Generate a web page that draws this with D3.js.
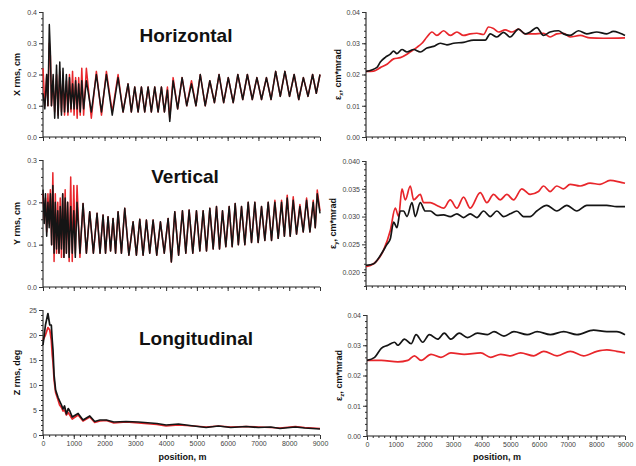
<!DOCTYPE html>
<html><head><meta charset="utf-8">
<script src="https://cdn.jsdelivr.net/npm/d3@7"></script>
<style>
body{margin:0;background:#fff}
svg{display:block}
text{font-family:"Liberation Sans",Arial,Helvetica,sans-serif}
</style>
</head><body>
<svg id="c" width="636" height="466"></svg>
<script>
// ---------- DATA (position in m) ----------
const xTicks = [0,1000,2000,3000,4000,5000,6000,7000,8000,9000];

// Horizontal: X rms, cm
const posH = [0,60,120,160,205,240,275,330,380,440,490,545,600,650,700,760,810,860,910,960,1010,1060,1110,1160,1210,1260,1320,1409,1570,1734,1900,2060,2250,2439,2600,2764,2870,2981,3090,3198,3305,3415,3520,3631,3740,3848,3945,4043,4119,4228,4375,4520,4670,4824,4970,5110,5270,5420,5570,5720,5870,6020,6180,6330,6490,6640,6800,6950,7100,7260,7410,7560,7710,7860,8010,8160,8310,8460,8610,8760,8880,9000];
const hBlack = [0.14,0.09,0.2,0.1,0.36,0.27,0.1,0.2,0.06,0.23,0.06,0.24,0.07,0.22,0.08,0.2,0.08,0.19,0.09,0.17,0.09,0.18,0.09,0.17,0.08,0.18,0.09,0.18,0.08,0.2,0.08,0.2,0.07,0.19,0.08,0.17,0.08,0.16,0.08,0.16,0.08,0.16,0.08,0.16,0.08,0.16,0.08,0.15,0.05,0.18,0.09,0.19,0.1,0.17,0.1,0.2,0.1,0.18,0.11,0.2,0.11,0.19,0.11,0.2,0.12,0.2,0.12,0.19,0.12,0.19,0.12,0.21,0.13,0.21,0.13,0.2,0.12,0.19,0.13,0.2,0.14,0.2];
const hRed = [0.22,0.1,0.2,0.1,0.3,0.26,0.1,0.18,0.08,0.2,0.07,0.21,0.08,0.19,0.07,0.18,0.07,0.2,0.08,0.21,0.07,0.19,0.06,0.19,0.07,0.22,0.07,0.22,0.06,0.21,0.07,0.21,0.08,0.2,0.08,0.17,0.08,0.16,0.08,0.16,0.08,0.16,0.08,0.16,0.08,0.16,0.08,0.16,0.06,0.19,0.09,0.19,0.1,0.18,0.1,0.2,0.1,0.18,0.11,0.2,0.11,0.19,0.11,0.2,0.12,0.2,0.12,0.19,0.12,0.19,0.12,0.21,0.13,0.21,0.13,0.2,0.12,0.19,0.13,0.2,0.14,0.2];

// Vertical: Y rms, cm
const posV = [0,40,80,120,160,200,240,280,320,360,400,440,480,520,560,600,640,680,720,760,800,850,900,950,1000,1050,1106,1200,1301,1410,1518,1637,1756,1853,1951,2032,2114,2195,2276,2358,2439,2548,2656,2790,2927,3035,3144,3252,3360,3468,3577,3696,3816,3940,4065,4170,4282,4406,4531,4640,4748,4867,4986,5095,5203,5312,5420,5529,5637,5735,5832,5940,6049,6146,6244,6347,6450,6558,6667,6775,6883,6991,7100,7208,7317,7425,7534,7642,7751,7843,7935,8032,8130,8238,8347,8455,8564,8672,8780,8846,8911,9000];
const vBlack = [0.23,0.15,0.22,0.12,0.2,0.14,0.22,0.1,0.24,0.08,0.2,0.09,0.18,0.08,0.19,0.09,0.22,0.07,0.21,0.08,0.2,0.07,0.19,0.08,0.18,0.07,0.2,0.08,
0.197,0.08,0.178,0.08,0.174,0.08,0.17,0.08,0.166,0.085,0.162,0.08,0.178,0.08,0.186,0.075,0.154,0.075,0.16,0.075,0.158,0.08,0.158,0.075,0.154,0.08,0.162,0.059,0.178,0.075,0.18,0.08,0.182,0.08,0.18,0.085,0.18,0.085,0.186,0.09,0.19,0.09,0.18,0.095,0.19,0.095,0.197,0.1,0.19,0.1,0.2,0.105,0.2,0.105,0.19,0.11,0.2,0.11,0.2,0.115,0.2,0.12,0.21,0.12,0.205,0.125,0.19,0.13,0.205,0.13,0.2,0.14,0.22,0.174];
const vRed = [0.22,0.16,0.21,0.13,0.22,0.15,0.23,0.1,0.27,0.06,0.22,0.08,0.2,0.08,0.21,0.07,0.22,0.07,0.23,0.08,0.2,0.06,0.26,0.06,0.24,0.08,0.24,0.07,
0.197,0.08,0.178,0.08,0.174,0.08,0.17,0.08,0.166,0.085,0.162,0.08,0.178,0.08,0.186,0.075,0.154,0.075,0.16,0.075,0.158,0.08,0.158,0.075,0.154,0.08,0.162,0.059,0.178,0.075,0.18,0.08,0.182,0.08,0.18,0.085,0.18,0.085,0.186,0.09,0.19,0.09,0.18,0.095,0.19,0.095,0.197,0.1,0.19,0.1,0.2,0.105,0.2,0.105,0.19,0.11,0.2,0.11,0.205,0.115,0.205,0.12,0.217,0.12,0.213,0.125,0.195,0.13,0.21,0.13,0.205,0.14,0.229,0.18];

// Longitudinal: Z rms, deg
const posZ = [0,80,160,220,270,300,325,360,410,490,540,600,650,700,760,820,870,950,1140,1300,1520,1680,1850,2060,2300,2700,3100,3700,4000,4400,4900,5300,5700,6100,6600,7000,7400,7700,8200,8500,9000];
const zBlack = [18,22,24.3,22,22,19,17,12,9,7.5,6.8,6,5.2,5.8,4.2,5.3,4.8,3.6,4.3,3,3.8,2.7,3,3,2.6,2.7,2.6,2.3,2,2.2,1.8,1.5,1.8,1.5,1.7,1.5,1.6,1.3,1.6,1.4,1.2];
const zRed = [19,20,21.5,21,19,16,14.5,11,8.5,7,6,5.5,4.8,5,4,4.5,4,3.2,4,2.8,3.6,2.5,2.8,2.9,2.4,2.6,2.4,2.1,1.8,2,1.8,1.6,1.8,1.6,1.7,1.6,1.5,1.4,1.7,1.5,1.3];

// epsilon x, cm*mrad
const exBlackPos = [0,382,498,671,845,960,1076,1250,1423,1655,1886,2117,2349,2580,2812,3043,3390,3737,4142,4316,4547,4778,5010,5299,5530,5704,5935,6167,6398,6687,6861,7092,7382,7671,8018,8365,8597,8828,9000];
const exBlack = [0.021,0.0223,0.024,0.0255,0.0265,0.0275,0.0267,0.028,0.0272,0.028,0.0272,0.0285,0.029,0.030,0.0295,0.030,0.0303,0.031,0.031,0.033,0.032,0.0335,0.032,0.0345,0.033,0.0336,0.035,0.0325,0.0336,0.034,0.033,0.0325,0.034,0.033,0.0336,0.033,0.0338,0.0332,0.0325];
const exRedPos = [0,266,498,729,960,1192,1423,1597,1770,1944,2117,2291,2464,2696,2927,3159,3390,3621,3853,4084,4258,4431,4605,4836,5068,5299,5530,5820,6167,6398,6630,6861,7092,7440,7787,8250,9000];
const exRed = [0.021,0.0211,0.0222,0.0233,0.025,0.0254,0.0265,0.0276,0.0287,0.030,0.032,0.0336,0.0325,0.034,0.0325,0.0336,0.0325,0.033,0.0332,0.0328,0.0352,0.0347,0.0336,0.0343,0.0336,0.0345,0.033,0.033,0.0332,0.032,0.033,0.0332,0.032,0.0325,0.0317,0.0316,0.0317];

// epsilon y, cm*mrad
const eyBlackPos = [0,266,498,729,845,960,1076,1192,1307,1423,1597,1712,1886,2059,2233,2464,2696,2927,3159,3390,3621,3853,4084,4316,4547,4778,5010,5241,5473,5704,5935,6283,6630,6977,7324,7671,8018,8365,8712,9000];
const eyBlack = [0.0212,0.0215,0.023,0.025,0.026,0.029,0.028,0.031,0.031,0.030,0.0325,0.030,0.0325,0.031,0.031,0.0302,0.0303,0.030,0.0305,0.0298,0.0305,0.0298,0.031,0.030,0.031,0.030,0.0305,0.031,0.030,0.030,0.031,0.032,0.031,0.032,0.031,0.032,0.032,0.032,0.0318,0.0318];
const eyRedPos = [0,266,613,845,1018,1134,1250,1365,1539,1655,1886,2002,2233,2464,2696,2927,3159,3390,3621,3969,4200,4431,4663,4894,5126,5415,5704,5993,6167,6398,6630,6861,7092,7440,7787,8134,8481,8828,9000];
const eyRed = [0.021,0.0215,0.024,0.0275,0.0315,0.030,0.035,0.033,0.0355,0.033,0.034,0.0325,0.0325,0.032,0.0315,0.033,0.0315,0.0335,0.0315,0.0343,0.0325,0.034,0.033,0.034,0.033,0.035,0.034,0.0345,0.0355,0.0345,0.0355,0.035,0.0358,0.0355,0.036,0.0358,0.0365,0.0362,0.036];

// epsilon z, cm*mrad
const ezBlackPos = [0,266,498,729,960,1076,1307,1539,1712,1944,2175,2464,2696,2927,3216,3506,3853,4200,4431,4778,5126,5588,5935,6398,6861,7324,7902,8365,8712,9000];
const ezBlack = [0.025,0.026,0.029,0.030,0.031,0.030,0.032,0.0305,0.0335,0.031,0.0335,0.032,0.034,0.032,0.034,0.0325,0.034,0.0335,0.0345,0.033,0.0345,0.0335,0.0345,0.0335,0.0345,0.0335,0.035,0.0345,0.0345,0.0335];
const ezRedPos = [0,500,1076,1423,1655,1886,2233,2580,2927,3390,3969,4316,4663,5010,5357,5820,6167,6630,7092,7555,8018,8365,8712,9000];
const ezRed = [0.025,0.025,0.0245,0.025,0.0265,0.025,0.027,0.026,0.0275,0.027,0.0275,0.026,0.027,0.0265,0.0275,0.0265,0.028,0.0265,0.028,0.0265,0.028,0.0285,0.028,0.0275];

// ---------- DRAWING ----------
const RED = "#e8262b", BLACK = "#151515";
const svg = d3.select("#c");

function panel(o){
  const x = d3.scaleLinear().domain([0,9000]).range([o.x0,o.x1]);
  const y = d3.scaleLinear().domain(o.yDom).range([o.yb,o.yt]);
  const g = svg.append("g");
  const xm = d3.range(0,9001,200);
  g.append("g").attr("transform",`translate(0,${o.yb})`)
    .call(d3.axisBottom(x).tickValues(xm).tickSize(2).tickFormat(""))
    .call(s=>s.select(".domain").remove());
  const ym = d3.range(o.yDom[0], o.yDom[1]+o.yMinor/2, o.yMinor);
  g.append("g").attr("transform",`translate(${o.x0},0)`)
    .call(d3.axisLeft(y).tickValues(ym).tickSize(2).tickFormat(""))
    .call(s=>s.select(".domain").remove());
  const ax = g.append("g").attr("transform",`translate(0,${o.yb})`)
    .call(d3.axisBottom(x).tickValues(xTicks).tickSize(4).tickPadding(2)
      .tickFormat(o.xLabels ? d3.format("d") : ""));
  ax.select(".domain").attr("d",`M${o.x0},0H${o.x1}`);
  const ay = g.append("g").attr("transform",`translate(${o.x0},0)`)
    .call(d3.axisLeft(y).tickValues(o.yTicks).tickSize(4).tickPadding(2).tickFormat(d3.format(o.yFmt)));
  ay.select(".domain").attr("d",`M0,${o.yb}V${o.yt}`);
  g.selectAll(".tick line").attr("stroke","#333");
  g.selectAll(".domain").attr("stroke","#222").attr("stroke-width",1.1);
  g.selectAll(".tick text").attr("fill","#444").style("font-size","7px")
    .style("font-family","'Liberation Sans',Arial,sans-serif");
  const line = d3.line().x(d=>x(d[0])).y(d=>y(d[1])).curve(o.curve);
  o.series.forEach(s=>{
    g.append("path").datum(d3.zip(s.pos,s.val))
      .attr("fill","none").attr("stroke",s.color).attr("stroke-width",s.w||1.7)
      .attr("stroke-linejoin","round").attr("d",line);
  });
  const t = g.append("text").attr("transform",`translate(${o.labX},${(o.yb+o.yt)/2}) rotate(-90)`)
    .attr("text-anchor","middle").attr("dominant-baseline","middle")
    .style("font-size","9px").style("font-weight","bold").attr("fill","#111");
  if(o.eps){
    t.append("tspan").text("ε");
    t.append("tspan").text(o.eps).attr("dy",2).style("font-size","6px");
    t.append("tspan").text(", cm*mrad").attr("dy",-2);
  } else t.text(o.label);
  if(o.title){
    g.append("text").attr("x",o.title[1]).attr("y",o.title[2]).attr("text-anchor","middle")
      .style("font-size","19px").style("font-weight","bold").attr("fill","#111").text(o.title[0]);
  }
  if(o.xLabels){
    g.append("text").attr("x",(o.x0+o.x1)/2+o.xlOff).attr("y",460).attr("text-anchor","middle")
      .style("font-size","9px").style("font-weight","bold").attr("fill","#111").text("position, m");
  }
}

const lin = d3.curveLinear, smooth = d3.curveMonotoneX;

panel({x0:43,x1:320,yt:12,yb:137,yDom:[0,0.4],yTicks:[0,0.1,0.2,0.3,0.4],yMinor:0.02,yFmt:".1f",
  labX:18,label:"X rms, cm",title:["Horizontal",186,42],curve:lin,
  series:[{pos:posH,val:hRed,color:RED,w:1.5},{pos:posH,val:hBlack,color:BLACK,w:1.5}]});
panel({x0:366,x1:625,yt:12,yb:137,yDom:[0,0.04],yTicks:[0,0.01,0.02,0.03,0.04],yMinor:0.002,yFmt:".2f",
  labX:339,eps:"x",curve:smooth,
  series:[{pos:exRedPos,val:exRed,color:RED},{pos:exBlackPos,val:exBlack,color:BLACK}]});
panel({x0:43,x1:320,yt:160,yb:287,yDom:[0,0.3],yTicks:[0,0.1,0.2,0.3],yMinor:0.02,yFmt:".1f",
  labX:18,label:"Y rms, cm",title:["Vertical",185,183],curve:lin,
  series:[{pos:posV,val:vRed,color:RED,w:1.5},{pos:posV,val:vBlack,color:BLACK,w:1.5}]});
panel({x0:366,x1:625,yt:161,yb:286,yDom:[0.0175,0.040],yTicks:[0.020,0.025,0.030,0.035,0.040],yMinor:0.001,yFmt:".3f",
  labX:334,eps:"y",curve:smooth,
  series:[{pos:eyRedPos,val:eyRed,color:RED},{pos:eyBlackPos,val:eyBlack,color:BLACK}]});
panel({x0:43,x1:320,yt:310,yb:435,yDom:[0,25],yTicks:[0,5,10,15,20,25],yMinor:1,yFmt:"d",
  labX:18,label:"Z rms, deg",title:["Longitudinal",196,345],curve:lin,xLabels:true,xlOff:1,
  series:[{pos:posZ,val:zRed,color:RED},{pos:posZ,val:zBlack,color:BLACK}]});
panel({x0:367,x1:625,yt:315,yb:436,yDom:[0,0.04],yTicks:[0,0.01,0.02,0.03,0.04],yMinor:0.002,yFmt:".2f",
  labX:340,eps:"z",curve:smooth,xLabels:true,xlOff:1,
  series:[{pos:ezRedPos,val:ezRed,color:RED},{pos:ezBlackPos,val:ezBlack,color:BLACK}]});
</script>
</body></html>
